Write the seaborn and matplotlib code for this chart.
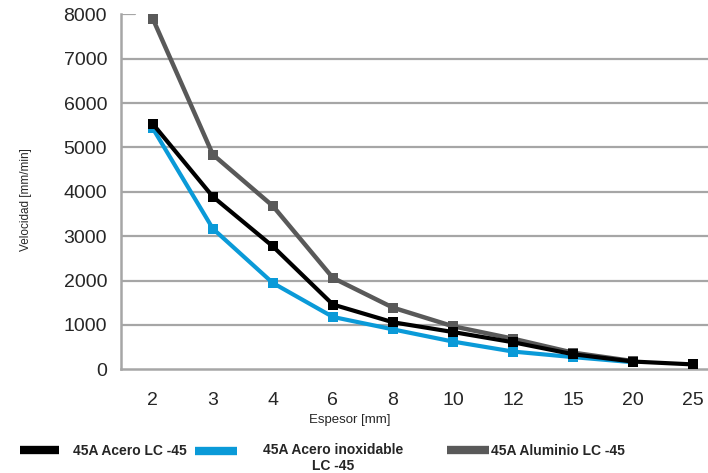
import pandas as pd
import matplotlib
import matplotlib.pyplot as plt
import seaborn as sns

espesor = ['2', '3', '4', '6', '8', '10', '12', '15', '20', '25']
acero = [5530, 3890, 2770, 1460, 1060, 840, 610, 340, 175, 110]
inox = [5430, 3170, 1945, 1180, 900, 625, 400, 275, 160]
aluminio = [7900, 4840, 3680, 2060, 1390, 970, 690, 375, 185]

labels = ['45A Acero LC -45', '45A Acero inoxidable\nLC -45', '45A Aluminio LC -45']
colors = ['#000000', '#0a9ad8', '#595959']
widths = [3.0, 3.0, 3.2]
zorders = [4, 3, 2]
series = [acero, inox, aluminio]

sns.set_style('white')
matplotlib.rcParams['font.family'] = ['Liberation Sans', 'DejaVu Sans']

fig = plt.figure(figsize=(7.08, 4.73), dpi=100)
ax = fig.add_axes([121 / 708, 103.7 / 473, 587 / 708, 355 / 473])

for vals, lab, c, lw, z in zip(series, labels, colors, widths, zorders):
    d = pd.DataFrame({'espesor': espesor[:len(vals)], 'vel': vals})
    sns.lineplot(data=d, x='espesor', y='vel', color=c, lw=lw, marker='s',
                 markersize=6.5, markeredgewidth=0, label=lab, zorder=z,
                 sort=False, ax=ax, legend=False)

ax.set_xlim(-0.53, 9.25)
ax.set_ylim(0, 8000)
ax.set_yticks(range(0, 8001, 1000))
for v in range(1000, 8000, 1000):
    ax.axhline(v, color='#a6a6a6', lw=1.6, zorder=1)
ax.axhline(8000, xmax=14 / 587, color='#a6a6a6', lw=1.6, zorder=1)

for s in ['top', 'right']:
    ax.spines[s].set_visible(False)
for s in ['left', 'bottom']:
    ax.spines[s].set_color('#a6a6a6')
    ax.spines[s].set_linewidth(1.8)

ax.tick_params(axis='x', direction='in', length=7, width=1.5, color='#a6a6a6',
               labelsize=14, labelcolor='#262626', pad=16)
ax.tick_params(axis='y', length=0, labelsize=14, labelcolor='#262626', pad=10)

ax.set_xlabel('Espesor [mm]', fontsize=9.5, color='#262626')
ax.set_ylabel('Velocidad [mm/min]', fontsize=8.5, color='#262626')
ax.xaxis.set_label_coords((350 - 121) / 587, -(414 - 369.3) / 355)
ax.yaxis.set_label_coords((32 - 121) / 587, (369.3 - 200) / 355)

# one legend per series so each entry sits where the reference puts it
# (x of handle start, y centre, handle length, text pad, handle lift in pt)
spots = [(20, 451, 2.8, 1.0, 0), (195, 458, 3.0, 1.9, 5.4), (447, 451, 3.0, 0.15, 0)]
for c, lab, (x0, yc, hl, tp, lift) in zip(colors, labels, spots):
    h = plt.Line2D([], [], color=c, lw=6, solid_capstyle='butt')
    leg = fig.legend([h], [lab], loc='center left',
                     bbox_to_anchor=(x0 / 708, 1 - yc / 473), frameon=False,
                     borderpad=0, borderaxespad=0,
                     handlelength=hl, handletextpad=tp,
                     prop={'weight': 'bold', 'size': 10})
    for t in leg.get_texts():
        t.set_multialignment('center')
        t.set_color('#262626')
    if lift:
        ln = leg.legend_handles[0]
        ln.set_ydata([y + lift for y in ln.get_ydata()])

fig.savefig('out.png', dpi=100)
